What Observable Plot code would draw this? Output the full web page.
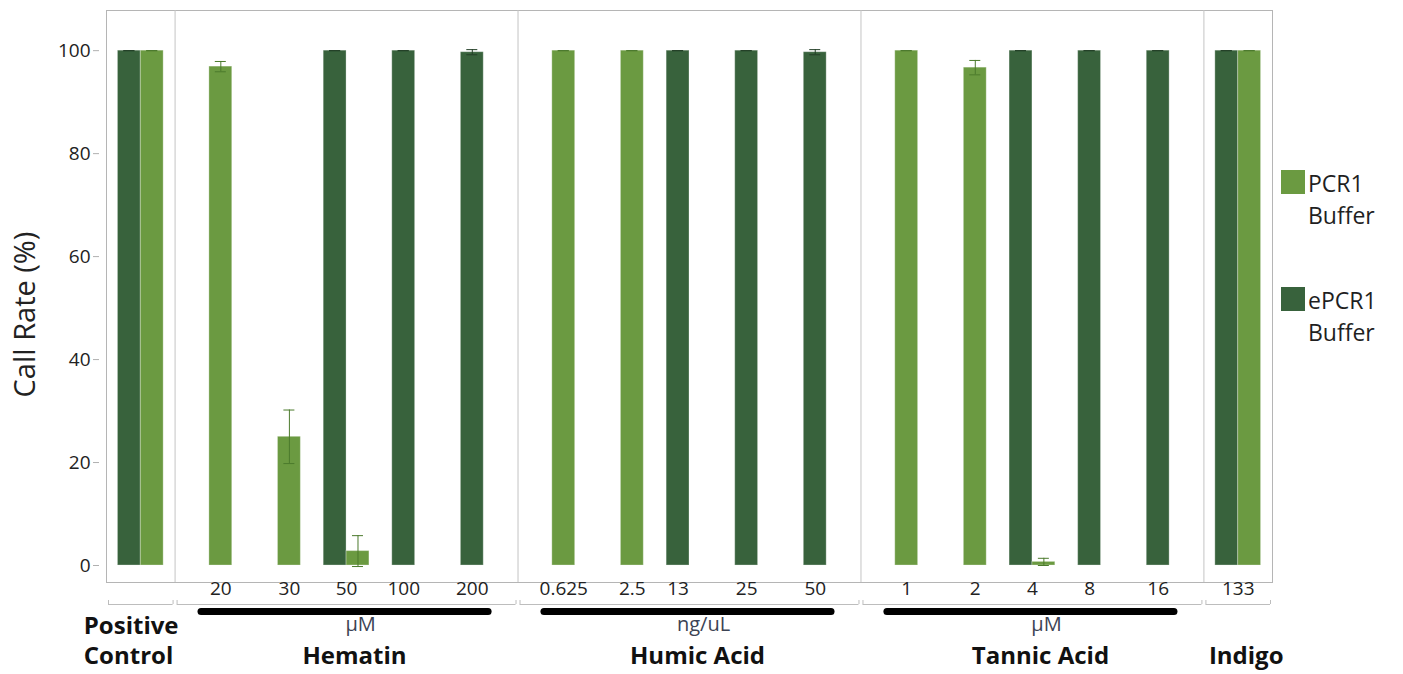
<!DOCTYPE html>
<html><head><meta charset="utf-8">
<script src="https://cdn.jsdelivr.net/npm/d3@7"></script>
<script src="https://cdn.jsdelivr.net/npm/@observablehq/plot@0.6"></script>
<style>
body{margin:0;background:#fff;font-family:"Open Sans",sans-serif;}
#wrap{position:relative;width:1403px;height:674px;}
#legend{position:absolute;left:1281px;top:167px;color:#1f1f1f;font-size:23px;line-height:32px;}
.item{display:flex;align-items:flex-start;margin-bottom:53px;}
.sw{width:24px;height:24px;margin-top:3px;margin-right:3px;flex:none;}
</style></head><body><div id="wrap"><div id="legend"></div></div>
<script>
// ---- data ----
const panels = ["Positive Control", "Hematin", "Humic Acid", "Tannic Acid", "Indigo"];
const panelLabels = ["Positive\nControl", "Hematin", "Humic Acid", "Tannic Acid", "Indigo"];
const units = ["", "µM", "ng/uL", "µM", ""];
const concentrations = [
  [""],
  ["20", "30", "50", "100", "200"],
  ["0.625", "2.5", "13", "25", "50"],
  ["1", "2", "4", "8", "16"],
  ["133"]
];
const buffers = ["PCR1 Buffer", "ePCR1 Buffer"];
const pcr1Values = [[100], [96.9, 25.0, 2.8, null, null], [100, 100, null, null, null], [100, 96.7, 0.7, null, null], [100]];
const pcr1Errors = [[0], [1.0, 5.2, 3.0, 0, 0], [0, 0, 0, 0, 0], [0, 1.4, 0.7, 0, 0], [0]];
const epcr1Values = [[100], [null, null, 100, 100, 99.7], [null, null, 100, 100, 99.7], [null, null, 100, 100, 100], [100]];
const epcr1Errors = [[0], [0, 0, 0, 0, 0.5], [0, 0, 0, 0, 0.5], [0, 0, 0, 0, 0], [0]];
const yTicks = [0, 20, 40, 60, 80, 100];

// ---- build tables ----
const slots = [], bars = [], groups = [], seps = [], panelInfo = [];
panels.forEach((p, pi) => {
  if (pi > 0) { const s = `sep|${pi}`; slots.push(s); seps.push(s); }
  const cs = concentrations[pi];
  const keys = [];
  cs.forEach((c, ci) => {
    if (ci > 0) slots.push(`${p}|${c}|gap`);
    const dKey = `${p}|${c}|e`, lKey = `${p}|${c}|p`;
    slots.push(dKey, lKey);
    keys.push([dKey, lKey]);
    const ev = epcr1Values[pi][ci], pv = pcr1Values[pi][ci];
    if (ev != null) bars.push({key: dKey, buffer: buffers[1], value: ev, err: epcr1Errors[pi][ci]});
    if (pv != null) bars.push({key: lKey, buffer: buffers[0], value: pv, err: pcr1Errors[pi][ci]});
    if (c !== "") groups.push({label: c, lKey, both: ev != null && pv != null, single: ev != null ? dKey : lKey});
  });
  const mid = keys[Math.floor(keys.length / 2)];
  panelInfo.push({name: panelLabels[pi], unit: units[pi], firstKey: keys[0][0], lastKey: keys[keys.length - 1][1], midKey: mid[1], multi: panelLabels[pi].includes("\n")});
});

const W = 1403, H = 674, ML = 106, MR = 131, MT = 10, MB = 92;
const bw = (W - ML - MR) / (slots.length + 1);
const yDomain = [-3.3, 107.8];
const yMin = yDomain[0];
const light = "#6b9a41", dark = "#38623c";

const chart = Plot.plot({
  width: W, height: H,
  marginLeft: ML, marginRight: MR, marginTop: MT, marginBottom: MB,
  style: {fontFamily: "'Open Sans', sans-serif", background: "#fff", color: "#222"},
  x: {type: "band", domain: slots, paddingInner: 0, paddingOuter: 0.5, round: false, axis: null},
  y: {domain: yDomain},
  color: {domain: buffers, range: [light, dark]},
  marks: [
    Plot.frame({stroke: "#b5b5b5"}),
    Plot.ruleX(seps, {x: d => d, stroke: "#c4c4c4"}),
    Plot.barY(bars, {x: "key", y: "value", fill: "buffer", stroke: "#ffffff", strokeOpacity: 0.3, strokeWidth: 1}),
    ...[[buffers[0], "#4b7a2c"], [buffers[1], "#233f27"]].map(([b, c]) => {
      const data = bars.filter(d => d.buffer === b);
      return [
        Plot.ruleX(data, {x: "key", y1: d => d.value - d.err, y2: d => d.value + d.err, stroke: c, strokeWidth: 1}),
        Plot.tickY(data, {x: "key", y: d => d.value - d.err, stroke: c, insetLeft: (bw - 11) / 2, insetRight: (bw - 11) / 2}),
        Plot.tickY(data, {x: "key", y: d => d.value + d.err, stroke: c, insetLeft: (bw - 11) / 2, insetRight: (bw - 11) / 2})
      ];
    }),
    Plot.axisY({ticks: yTicks, tickSize: 6, tickPadding: 3, dx: -7, line: true, label: null, fontSize: 19, stroke: "#b0b0b0", fill: "#222"}),
    Plot.text(["Call Rate (%)"], {frameAnchor: "left", textAnchor: "middle", dx: -81, dy: 18, rotate: -90, fontSize: 29, fill: "#222"}),
    // concentration tick labels
    Plot.text(groups.filter(d => d.both), {x: "lKey", text: "label", frameAnchor: "bottom", dy: 12, dx: -bw / 2, fontSize: 19, fill: "#222"}),
    Plot.text(groups.filter(d => !d.both), {x: "single", text: "label", frameAnchor: "bottom", dy: 12, fontSize: 19, fill: "#222"}),
    // grey bracket below each panel
    Plot.ruleY(panelInfo, {y: () => yMin, x1: "firstKey", x2: "lastKey", insetLeft: -(bw / 2 - 2), insetRight: -(bw / 2 - 2), dy: 22, stroke: "#bdbdbd"}),
    Plot.ruleX(panelInfo, {x: "firstKey", y1: () => yMin, y2: () => yMin, insetTop: -4, dy: 22, dx: -(bw - 2), stroke: "#bdbdbd"}),
    Plot.ruleX(panelInfo, {x: "lastKey", y1: () => yMin, y2: () => yMin, insetTop: -4, dy: 22, dx: (bw - 2), stroke: "#bdbdbd"}),
    // thick black unit bars
    Plot.ruleY(panelInfo.filter(d => d.unit), {y: () => yMin, x1: "firstKey", x2: "lastKey", insetLeft: 15, insetRight: 18, dy: 29, stroke: "#000", strokeWidth: 7, strokeLinecap: "round"}),
    Plot.text(panelInfo.filter(d => d.unit), {x: "midKey", text: "unit", dx: -bw / 2 + 14, frameAnchor: "bottom", dy: 48, fontSize: 20, fill: "#3c4354"}),
    Plot.text(panelInfo.filter(d => !d.multi), {x: "midKey", text: "name", dx: -bw / 2 + 8, frameAnchor: "bottom", dy: 81, fontSize: 24, fontWeight: 700, fill: "#111"}),
    Plot.text(panelInfo.filter(d => d.multi), {x: "midKey", text: "name", dx: -bw / 2 - 57, textAnchor: "start", frameAnchor: "bottom", dy: 81, lineAnchor: "bottom", lineHeight: 1.25, fontSize: 24, fontWeight: 700, fill: "#111"})
  ]
});
document.getElementById("wrap").prepend(chart);

// legend
const legend = document.getElementById("legend");
buffers.forEach((b, i) => {
  const item = document.createElement("div");
  item.className = "item";
  const sw = document.createElement("div");
  sw.className = "sw";
  sw.style.background = i === 0 ? light : dark;
  const t = document.createElement("div");
  t.innerHTML = b.replace(" ", "<br>");
  item.append(sw, t);
  legend.append(item);
});
</script>
</body></html>
